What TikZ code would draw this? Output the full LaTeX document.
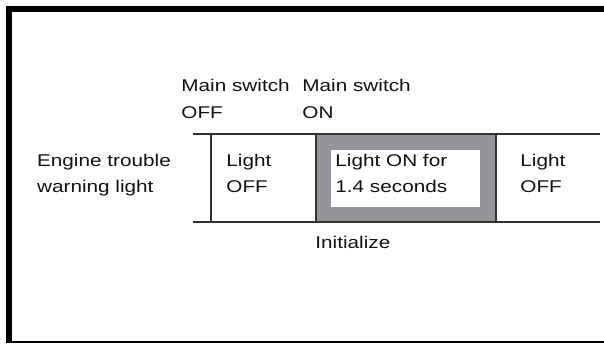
\documentclass[tikz,border=0pt]{standalone}
\usepackage{fontspec}
\setmainfont{Liberation Sans}[FakeStretch=1.22]
\usetikzlibrary{positioning}
\definecolor{ink}{HTML}{111111}
\definecolor{rulegray}{HTML}{333333}
\definecolor{ongray}{HTML}{939598}
\tikzset{
  every node/.style={font=\fontsize{8.5}{13.2}\selectfont,text=ink},
  lbl/.style={anchor=base west,align=left,inner sep=0pt},
  rule/.style={draw=rulegray,line width=1pt},
  frameline/.style={draw=black,line width=2.8pt},
  bottomline/.style={draw=black,line width=1pt},
  onfill/.style={fill=ongray}
}

\begin{document}
\begin{tikzpicture}[x=0.5pt,y=-0.5pt]
  \useasboundingbox (0,0) rectangle (604,343);
  % frame
  \draw[frameline] (8.7,343) -- (8.7,8.7) -- (604,8.7);
  \draw[bottomline] (6,341.5) -- (604,341.5);

  % light ON period
  \fill[onfill] (316,134) rectangle (496,222);
  \fill[white] (331,150) rectangle (480,207);

  % chart rules
  \draw[rule] (193,134) -- (600,134);
  \draw[rule] (193,222) -- (600,222);
  \foreach \x in {211,316,496}
    \draw[rule] (\x,134) -- (\x,222);

  % labels (anchored at the baseline of the last line)
  \node[lbl] (swoff) at (181,118.3) {Main switch\\OFF};
  \node[lbl] (swon) at (302,118.3) {Main switch\\ON};
  \node[lbl] (lamp) at (36.7,192.7) {Engine trouble\\warning light};
  \node[lbl] (off1) at (226,192.7) {Light\\OFF};
  \node[lbl] (onfor) at (335,192.7) {Light ON for\\1.4 seconds};
  \node[lbl] (off2) at (520,192.7) {Light\\OFF};
  \node[lbl] (init) at (315,248) {Initialize};
\end{tikzpicture}
\end{document}
